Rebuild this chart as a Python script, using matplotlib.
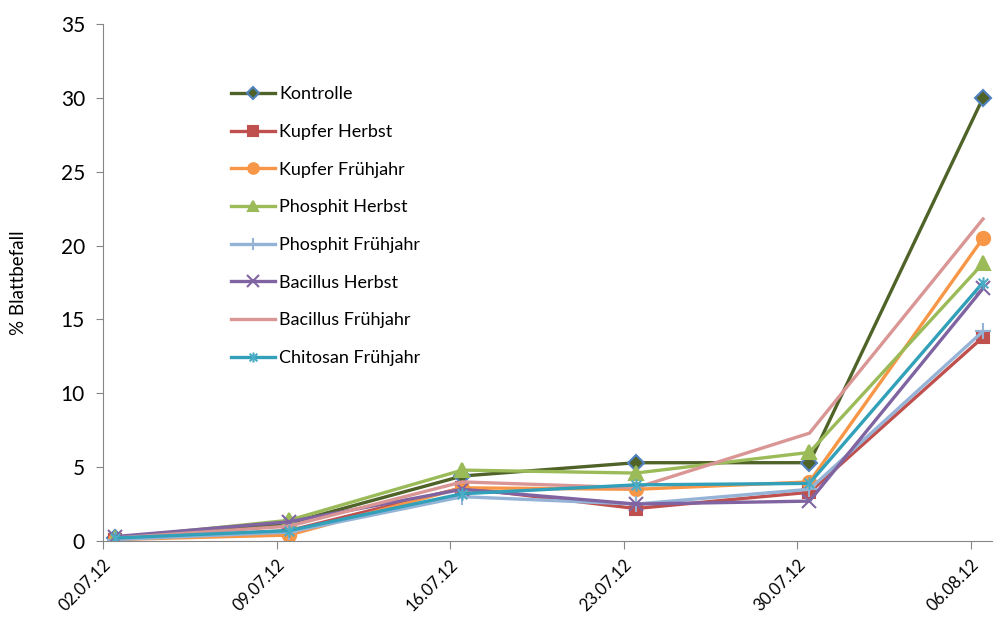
import numpy as np
import matplotlib.pyplot as plt
from matplotlib.path import Path

dates = ["02.07.12", "09.07.12", "16.07.12", "23.07.12", "30.07.12", "06.08.12"]

kontrolle = [0.2, 1.2, 4.4, 5.3, 5.3, 30.0]
kupfer_herbst = [0.1, 0.7, 3.6, 2.2, 3.3, 13.8]
kupfer_fruehjahr = [0.1, 0.4, 3.6, 3.5, 4.0, 20.5]
phosphit_herbst = [0.2, 1.4, 4.8, 4.6, 6.0, 18.8]
phosphit_fruehjahr = [0.1, 0.6, 3.0, 2.5, 3.5, 14.2]
bacillus_herbst = [0.3, 1.3, 3.5, 2.5, 2.7, 17.1]
bacillus_fruehjahr = [0.2, 1.0, 4.0, 3.6, 7.3, 21.8]
chitosan_fruehjahr = [0.2, 0.7, 3.2, 3.8, 3.9, 17.5]

# excel style asterisk: x plus vertical bar
star = Path([(-1, -1), (1, 1), (-1, 1), (1, -1), (0, -1.3), (0, 1.3)],
            [Path.MOVETO, Path.LINETO, Path.MOVETO, Path.LINETO, Path.MOVETO, Path.LINETO])

series = [
    ("Kontrolle", kontrolle, "#4F6228", "D", "#4F6228", "#4F81BD", 8),
    ("Kupfer Herbst", kupfer_herbst, "#C0504D", "s", "#C0504D", "#C0504D", 8.5),
    ("Kupfer Frühjahr", kupfer_fruehjahr, "#F79646", "o", "#F79646", "#F79646", 9.5),
    ("Phosphit Herbst", phosphit_herbst, "#9BBB59", "^", "#9BBB59", "#9BBB59", 9.5),
    ("Phosphit Frühjahr", phosphit_fruehjahr, "#95B3D7", "+", "#95B3D7", "#95B3D7", 11),
    ("Bacillus Herbst", bacillus_herbst, "#8064A2", "x", "#8064A2", "#8064A2", 10),
    ("Bacillus Frühjahr", bacillus_fruehjahr, "#D99694", None, "#D99694", "#D99694", 0),
    ("Chitosan Frühjahr", chitosan_fruehjahr, "#31A0B8", star, "#4BACC6", "#4BACC6", 9),
]

plt.rcParams['font.family'] = ['Lato', 'DejaVu Sans']

fig = plt.figure(figsize=(9.93, 6.25), dpi=100)
ax = fig.add_axes([0.1037, 0.1344, 0.895, 0.8272])

x = np.arange(len(dates))
for name, vals, col, mk, mfc, mec, ms in series:
    ax.plot(x, vals, color=col, lw=2.4, marker=mk, markersize=ms,
            markerfacecolor=mfc, markeredgecolor=mec, markeredgewidth=1.5,
            label=name, solid_joinstyle='miter')

ax.set_xlim(-0.057, 5.05)
ax.set_ylim(0, 35)
ax.set_yticks(np.arange(0, 36, 5))
ax.set_xticks(x - 0.07)
ax.set_xticklabels(dates, rotation=45, ha='right', rotation_mode='anchor', fontsize=12)
ax.tick_params(axis='y', labelsize=15, length=5, color='#868686', pad=8)
ax.tick_params(axis='x', length=6, color='#868686', pad=5)
for s in ['top', 'right']:
    ax.spines[s].set_visible(False)
for s in ['left', 'bottom']:
    ax.spines[s].set_color('#868686')
ax.set_ylabel('% Blattbefall', fontsize=13.5, labelpad=24)

ax.legend(loc='upper left', bbox_to_anchor=(215 / 993, 1 - 70 / 625),
          bbox_transform=fig.transFigure, frameon=False, fontsize=13,
          labelspacing=1.2, handlelength=2.4, handletextpad=0.25, markerscale=0.8)

fig.savefig('out.png', dpi=100)
